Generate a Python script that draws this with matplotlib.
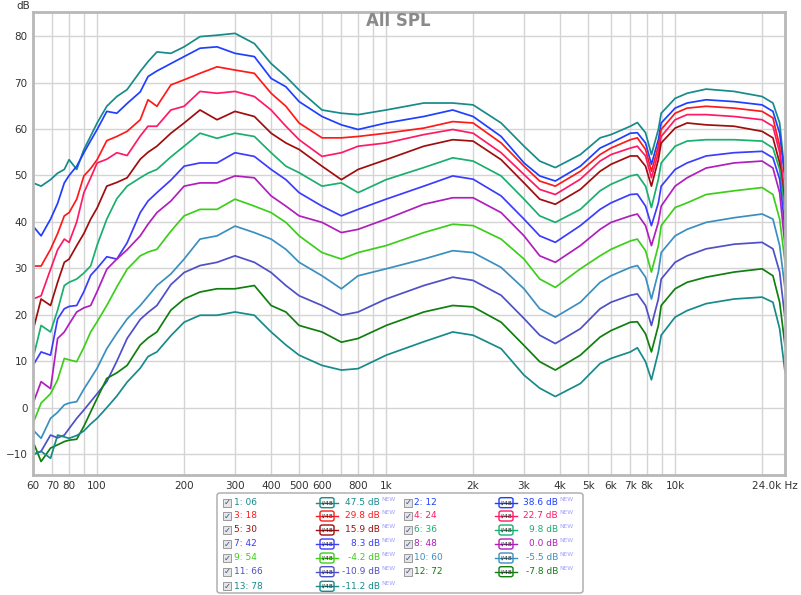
import matplotlib.pyplot as plt
from matplotlib.patches import FancyBboxPatch, Rectangle

# frequency points (Hz) shared by all traces
freq = [60, 64, 69, 73, 77, 80, 85, 90, 95, 100, 108, 117, 127, 141, 150, 161, 180, 200,
        227, 260, 300, 350, 400, 450, 500, 600, 700, 800, 1000, 1350, 1700, 2000, 2500,
        3000, 3400, 3850, 4700, 5500, 6000, 7000, 7400, 7900, 8280, 8750, 8950, 10000,
        11000, 12800, 16000, 20000, 21800, 23000, 24000]

spl_06 = [48.4, 47.7, 49.1, 50.5, 51.3, 53.4, 51.3, 55.6, 58.5, 61.3, 64.9, 67.0, 68.5, 72.4, 74.5, 76.6, 76.3, 77.7,
          79.9, 80.2, 80.6, 78.4, 74.1, 71.3, 68.4, 64.1, 63.4, 63.1, 64.1, 65.6, 65.6, 65.2, 61.3,
          56.3, 53.1, 51.7, 54.5, 58.1, 58.8, 60.6, 61.4, 59.2, 54.5, 59.9, 63.4, 66.6,
          67.7, 68.6, 68.1, 67.0, 65.6, 61.3, 49.9]
spl_12 = [39.1, 37.0, 40.6, 44.0, 48.4, 50.0, 52.0, 54.9, 57.5, 59.9, 63.8, 63.4, 65.5, 68.0, 71.3, 72.5, 74.1, 75.6,
          77.4, 77.7, 76.3, 75.6, 70.9, 69.1, 65.9, 62.7, 60.9, 59.9, 61.3, 62.7, 64.1, 62.7, 58.4,
          52.7, 49.9, 48.8, 52.0, 55.9, 57.0, 59.1, 59.2, 57.0, 52.4, 57.7, 61.3, 64.5,
          65.6, 66.3, 65.9, 65.2, 63.8, 59.1, 49.2]
spl_18 = [30.5, 30.5, 34.1, 37.5, 41.3, 42.0, 44.9, 49.9, 51.5, 53.4, 57.5, 58.4, 59.5, 62.0, 66.3, 64.9, 69.5, 70.6,
          72.0, 73.4, 72.7, 72.0, 67.7, 64.9, 61.3, 58.1, 58.1, 58.4, 59.1, 60.2, 61.6, 61.3, 57.0,
          52.0, 48.8, 47.7, 50.9, 54.5, 55.9, 57.7, 58.1, 55.6, 50.9, 56.3, 59.9, 63.4,
          64.5, 64.9, 64.5, 63.8, 62.4, 56.3, 43.4]
spl_24 = [23.4, 24.1, 29.8, 34.0, 36.3, 35.6, 40.0, 46.3, 49.5, 52.7, 53.5, 54.9, 54.3, 58.5, 60.6, 60.6, 64.1, 64.9,
          68.1, 67.7, 68.1, 67.0, 64.1, 60.6, 57.7, 54.1, 54.9, 56.3, 57.0, 58.8, 59.9, 59.1, 54.9,
          50.2, 47.0, 45.9, 49.2, 53.1, 54.5, 55.9, 56.3, 54.2, 49.5, 54.9, 58.4, 62.0,
          63.1, 63.1, 62.7, 62.0, 60.6, 54.9, 45.6]
spl_30 = [16.6, 23.4, 22.0, 27.0, 31.3, 32.0, 34.9, 37.5, 40.6, 43.0, 47.7, 48.5, 49.5, 53.5, 55.0, 56.3, 59.1, 61.3,
          64.1, 62.0, 63.8, 62.7, 59.1, 57.0, 55.6, 52.0, 49.1, 51.3, 53.4, 56.3, 57.7, 57.4, 53.4,
          48.4, 44.9, 43.8, 47.0, 50.9, 52.4, 54.2, 54.2, 52.0, 47.7, 53.4, 57.0, 60.2,
          61.3, 60.9, 60.6, 59.5, 58.1, 52.7, 43.4]
spl_36 = [10.6, 17.7, 16.3, 21.0, 26.3, 27.0, 27.7, 29.0, 30.5, 35.0, 40.6, 45.0, 47.7, 49.5, 50.5, 51.3, 54.0, 56.3,
          59.1, 58.0, 59.1, 58.4, 54.9, 52.0, 50.6, 47.7, 48.4, 46.3, 49.1, 51.7, 53.8, 53.1, 49.9,
          44.9, 41.3, 39.9, 42.7, 46.7, 48.1, 49.9, 50.2, 47.7, 43.1, 49.2, 52.7, 56.3,
          57.4, 57.7, 57.7, 57.4, 55.9, 51.3, 42.0]
spl_42 = [9.1, 12.0, 11.3, 19.1, 21.3, 21.8, 22.0, 25.0, 28.5, 30.0, 32.5, 32.0, 35.5, 42.0, 44.5, 46.3, 49.0, 52.0,
          52.7, 52.7, 54.9, 54.1, 51.3, 49.1, 46.3, 43.4, 41.3, 42.7, 44.9, 47.7, 49.9, 49.2, 45.6,
          40.6, 37.0, 35.6, 39.2, 42.7, 44.1, 45.9, 46.0, 43.4, 39.2, 44.1, 47.7, 51.3,
          52.7, 54.2, 54.9, 55.2, 53.8, 49.2, 38.4]
spl_48 = [0.9, 5.6, 4.1, 14.9, 16.3, 18.0, 20.6, 21.5, 22.0, 25.0, 29.8, 32.0, 34.0, 37.0, 39.5, 42.0, 44.5, 47.7,
          48.4, 48.4, 49.9, 49.5, 45.6, 43.4, 41.3, 39.9, 37.7, 38.4, 40.6, 43.8, 45.2, 45.2, 42.0,
          37.0, 32.7, 31.3, 34.9, 38.4, 39.9, 41.3, 41.7, 39.2, 34.9, 39.9, 43.4, 47.7,
          49.5, 51.6, 52.7, 53.1, 51.6, 46.3, 34.9]
spl_54 = [-3.4, 1.0, 3.0, 6.0, 10.6, 10.3, 9.9, 13.0, 16.3, 18.5, 22.0, 26.0, 29.8, 32.7, 33.5, 34.1, 38.0, 41.3,
          42.7, 42.7, 44.9, 43.4, 42.0, 39.9, 37.0, 33.4, 32.0, 33.4, 34.9, 37.7, 39.5, 39.2, 36.3,
          32.0, 27.7, 25.9, 29.9, 32.7, 34.1, 35.9, 36.3, 33.8, 29.2, 34.9, 39.2, 43.1,
          44.1, 45.9, 46.7, 47.4, 45.9, 40.6, 31.3]
spl_60 = [-4.8, -6.6, -2.3, -1.0, 0.6, 1.0, 1.3, 4.0, 6.3, 8.5, 12.7, 16.0, 19.1, 22.0, 24.0, 26.3, 28.8, 32.0,
          36.3, 37.0, 39.1, 37.7, 36.3, 34.1, 31.3, 28.4, 25.6, 28.4, 29.9, 32.0, 33.8, 33.4, 30.2,
          25.6, 21.3, 19.5, 22.7, 27.0, 28.4, 30.2, 30.6, 28.1, 23.4, 29.2, 33.4, 37.0,
          38.4, 39.9, 40.9, 41.7, 40.6, 34.9, 25.6]
spl_66 = [-10.1, -9.4, -5.9, -6.5, -5.9, -4.5, -2.3, -0.5, 1.3, 3.0, 5.6, 10.0, 14.9, 19.0, 20.5, 22.0, 26.5, 29.1,
          30.6, 31.3, 32.7, 31.3, 29.1, 26.3, 24.1, 22.0, 19.9, 20.6, 23.4, 26.3, 28.1, 27.4, 24.2,
          19.2, 15.6, 13.8, 17.0, 21.3, 22.7, 24.2, 24.5, 22.0, 17.7, 23.4, 27.7, 31.3,
          32.7, 34.2, 35.2, 35.6, 34.2, 29.2, 19.2]
spl_72 = [-7.3, -11.6, -8.7, -8.0, -7.3, -7.0, -6.8, -4.0, -0.9, 2.0, 6.3, 7.5, 9.1, 13.5, 15.0, 16.3, 21.0, 23.4,
          24.9, 25.6, 25.6, 26.3, 22.0, 20.6, 17.7, 16.3, 14.1, 14.9, 17.7, 20.6, 22.0, 21.7, 18.4,
          13.4, 9.9, 8.1, 11.3, 15.2, 16.6, 18.4, 18.5, 15.9, 12.0, 17.7, 22.0, 25.6,
          27.0, 28.1, 29.2, 29.9, 28.4, 22.7, 13.4]
spl_78 = [-10.1, -9.4, -10.9, -5.9, -6.3, -6.6, -6.0, -5.0, -3.5, -2.3, 0.0, 2.5, 5.5, 8.5, 11.0, 12.0, 15.5, 18.4,
          19.9, 19.9, 20.6, 19.9, 16.3, 13.5, 11.3, 9.1, 8.1, 8.4, 11.3, 14.2, 16.3, 15.6, 12.7,
          7.0, 4.2, 2.4, 5.2, 9.5, 10.6, 12.0, 12.9, 9.9, 6.0, 12.0, 15.6, 19.5,
          20.9, 22.4, 23.4, 23.8, 22.7, 17.0, 7.7]

names = ['1: 06', '2: 12', '3: 18', '4: 24', '5: 30', '6: 36', '7: 42',
         '8: 48', '9: 54', '10: 60', '11: 66', '12: 72', '13: 78']
offsets = ['47.5 dB', '38.6 dB', '29.8 dB', '22.7 dB', '15.9 dB', '9.8 dB', '8.3 dB',
           '0.0 dB', '-4.2 dB', '-5.5 dB', '-10.9 dB', '-7.8 dB', '-11.2 dB']
colors = ['#178a8a', '#1f3fff', '#ff1a1a', '#ff1a66', '#a00d0d', '#1aaf6e', '#3c3cff',
          '#b01ebe', '#3ccf1a', '#3a8fc0', '#4f4fc8', '#0f7f0f', '#178a8a']
traces = [spl_06, spl_12, spl_18, spl_24, spl_30, spl_36, spl_42,
          spl_48, spl_54, spl_60, spl_66, spl_72, spl_78]

grid_f = [60, 70, 80, 90, 100, 200, 300, 400, 500, 600, 700, 800, 900, 1000,
          2000, 3000, 4000, 5000, 6000, 7000, 8000, 9000, 10000, 20000]
grid_lbl = ['60', '70', '80', '', '100', '200', '300', '400', '500', '600', '', '800', '', '1k',
            '2k', '3k', '4k', '5k', '6k', '7k', '8k', '', '10k', '']

W, H = 801, 595
fig = plt.figure(figsize=(W / 100, H / 100), dpi=100)
ax = fig.add_axes([33 / W, 1 - 475 / H, (785 - 33) / W, (475 - 12) / H])

for y, c in zip(traces, colors):
    ax.plot(freq, y, color=c, lw=1.25)

ax.set_xscale('log')
ax.set_xlim(60, 24000)
ax.set_ylim(-14.5, 85.2)
ax.minorticks_off()
ax.set_xticks(grid_f)
ax.set_xticklabels(grid_lbl)
ax.set_yticks(range(-10, 81, 10))
ax.tick_params(length=0, labelsize=7.5, colors='#333333', pad=4)
ax.grid(True, color='#d4d4d4', lw=1)
ax.set_axisbelow(True)
for s in ax.spines.values():
    s.set_color('#b8b8b8')
    s.set_linewidth(2)

def fx(x):
    return x / W

def fy(y):
    return 1 - y / H

fig.text(fx(798), fy(486), '24.0k Hz', ha='right', va='center', fontsize=7.5, color='#333333')
fig.text(fx(23), fy(6), 'dB', ha='center', va='center', fontsize=7.5, color='#333333')
fig.text(fx(398), fy(21), 'All SPL', ha='center', va='center', fontsize=12,
         color='#8a8a8a', fontweight='bold')

# legend panel
fig.add_artist(FancyBboxPatch((fx(217), fy(593)), 366 / W, 100 / H,
                              boxstyle='round,pad=0,rounding_size=0.004',
                              transform=fig.transFigure, fc='white', ec='#a8a8a8', lw=1))
rows_y = [502.7, 516, 530, 544, 558, 571.7, 586.3]
cols = [dict(box=223, lab=234, icon=316, val=380), dict(box=404, lab=414, icon=495, val=558)]
for k in range(len(names)):
    y = rows_y[k // 2]
    cc = cols[k % 2]
    c = colors[k]
    fig.add_artist(Rectangle((fx(cc['box']), fy(y + 4)), 8 / W, 8 / H, transform=fig.transFigure,
                             fc='#e6e6e6', ec='#8c8c8c', lw=0.6))
    fig.text(fx(cc['box'] + 4.5), fy(y), '\u2713', ha='center', va='center', fontsize=6,
             color='#3a4f9a')
    fig.text(fx(cc['lab']), fy(y), names[k], ha='left', va='center', fontsize=6.5, color=c)
    fig.add_artist(plt.Line2D([fx(cc['icon']), fx(cc['icon'] + 22)], [fy(y), fy(y)],
                              transform=fig.transFigure, color=c, lw=1))
    fig.add_artist(FancyBboxPatch((fx(cc['icon'] + 4), fy(y + 5)), 14 / W, 10 / H,
                                  boxstyle='round,pad=0,rounding_size=0.003',
                                  transform=fig.transFigure, fc='white', ec=c, lw=1))
    fig.text(fx(cc['icon'] + 11), fy(y), 'l/48', ha='center', va='center', fontsize=4.5,
             color='#222222')
    fig.text(fx(cc['val']), fy(y), offsets[k], ha='right', va='center', fontsize=6.5, color=c)
    fig.text(fx(cc['val'] + 1), fy(y - 3), 'NEW', ha='left', va='center', fontsize=4.3,
             color='#a0a0ff')

fig.savefig('out.png', dpi=100)
